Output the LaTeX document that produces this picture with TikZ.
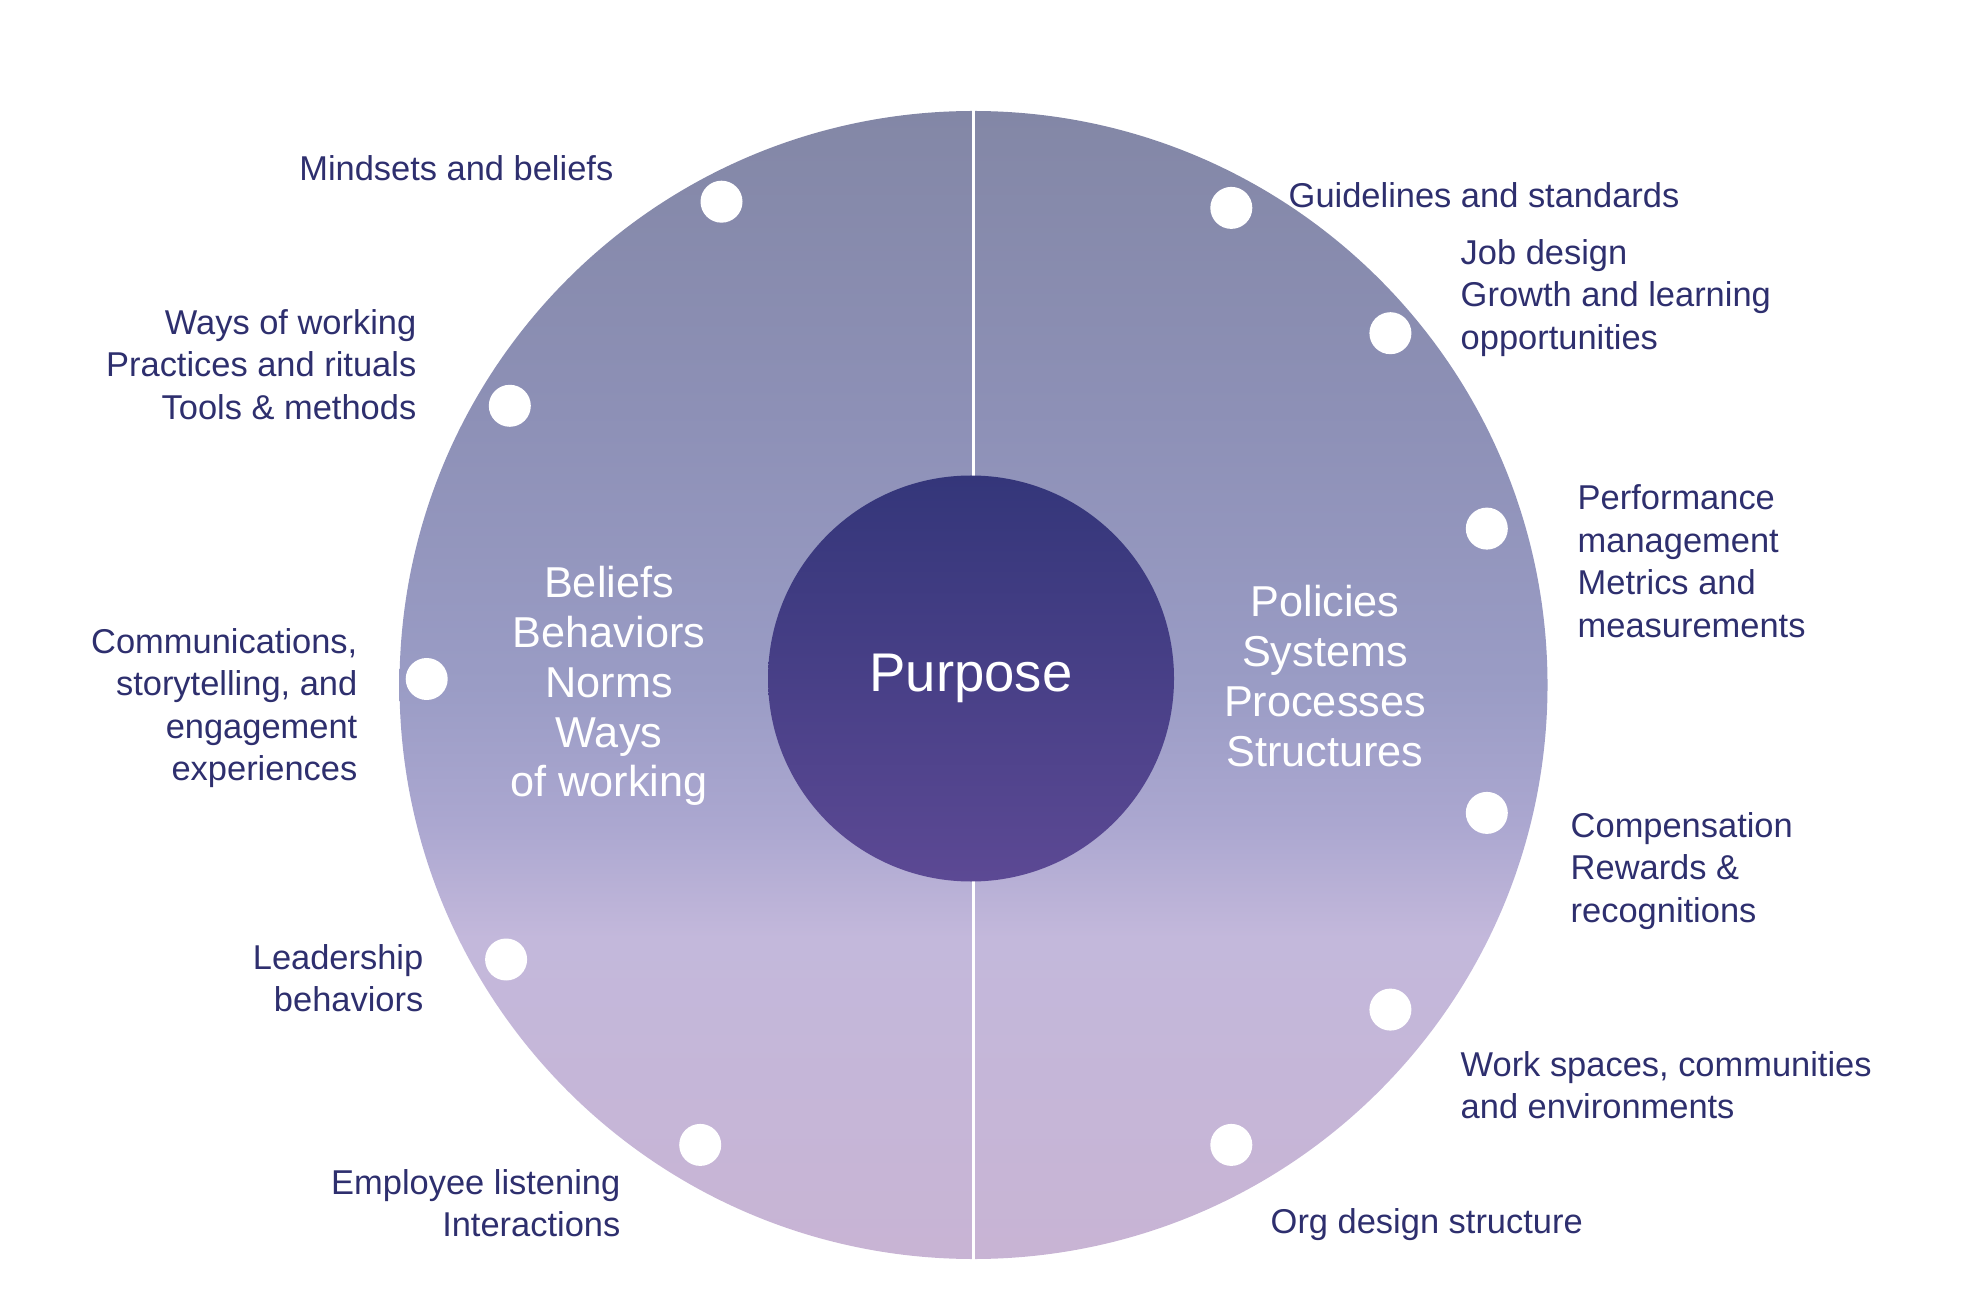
\documentclass[tikz,border=0pt]{standalone}
\usepackage{fontspec}
\setmainfont{Liberation Sans}
\usepackage{tikz}
\usetikzlibrary{positioning}

\definecolor{labelnavy}{HTML}{2E2F6E}
\definecolor{ringtop}{HTML}{8387A6}
\definecolor{ringblue}{HTML}{8D90B6}
\definecolor{ringmid}{HTML}{9A9CC5}
\definecolor{ringmidb}{HTML}{ABA7D0}
\definecolor{ringlilac}{HTML}{C3B8DB}
\definecolor{ringlow}{HTML}{C8B4D4}
\definecolor{hubtop}{HTML}{34367A}
\definecolor{hubbottom}{HTML}{5C4994}

\pgfdeclareverticalshading{ringshade}{100bp}{color(0bp)=(ringlow); color(25bp)=(ringlow);
  color(39bp)=(ringlilac); color(44bp)=(ringmidb); color(50bp)=(ringmid);
  color(62bp)=(ringblue); color(75bp)=(ringtop); color(100bp)=(ringtop)}

\begin{document}
\begin{tikzpicture}[
    lbl/.style={font=\fontsize{9.8}{12.1}\selectfont, text=labelnavy, inner sep=0pt},
    inlbl/.style={font=\fontsize{12.3}{14.2}\selectfont, text=white, align=center, inner sep=0pt},
    dot/.style={circle, fill=white, minimum size=0.42cm, inner sep=0pt}
  ]
    \useasboundingbox (0,0) rectangle (19.64,-13.06);

    % outer ring and the split line
    \node[circle, minimum size=11.48cm, inner sep=0pt, shading=ringshade] (ring) at (9.735,-6.85) {};
    \draw[white, line width=0.9pt] (ring.north) -- (ring.south);

    % centre
    \node[circle, minimum size=4.06cm, inner sep=0pt, top color=hubtop, bottom color=hubbottom,
          text=white, font=\fontsize{15.5}{18}\selectfont] (hub) at (9.71,-6.785) {Purpose};

    \node[inlbl] (culture) at (6.09,-6.86) {Beliefs\\Behaviors\\Norms\\Ways\\of working};
    \node[inlbl] (system)  at (13.25,-6.76) {Policies\\Systems\\Processes\\Structures};

    % dots, left half
    \node[dot] (mindsetsdot)   at (7.215,-2.017) {};
    \node[dot] (waysdot)       at (5.098,-4.058) {};
    \node[dot] (commsdot)      at (4.267,-6.79) {};
    \node[dot] (leadershipdot) at (5.061,-9.595) {};
    \node[dot] (listeningdot)  at (7.002,-11.449) {};
    % dots, right half
    \node[dot] (guidelinesdot)   at (12.313,-2.079) {};
    \node[dot] (jobdot)          at (13.904,-3.332) {};
    \node[dot] (performancedot)  at (14.868,-5.286) {};
    \node[dot] (compensationdot) at (14.868,-8.129) {};
    \node[dot] (workspacesdot)   at (13.904,-10.096) {};
    \node[dot] (orgdot)          at (12.313,-11.449) {};

    % labels, left
    \node[lbl, anchor=east, align=right] (mindsets)   at (6.14,-1.68) {Mindsets and beliefs};
    \node[lbl, anchor=east, align=right] (ways)       at (4.17,-3.645) {Ways of working\\Practices and rituals\\Tools \& methods};
    \node[lbl, anchor=east, align=right] (comms)      at (3.58,-7.08) {Communications,\\storytelling, and\\engagement\\experiences};
    \node[lbl, anchor=east, align=right] (leadership) at (4.24,-9.78) {Leadership\\behaviors};
    \node[lbl, anchor=east, align=right] (listening)  at (6.21,-12.03) {Employee listening\\Interactions};
    % labels, right
    \node[lbl, anchor=west, align=left] (guidelines)   at (12.88,-1.95) {Guidelines and standards};
    \node[lbl, anchor=west, align=left] (job)          at (14.60,-2.98) {Job design\\Growth and learning\\opportunities};
    \node[lbl, anchor=west, align=left] (performance)  at (15.77,-5.61) {Performance\\management\\Metrics and\\measurements};
    \node[lbl, anchor=west, align=left] (compensation) at (15.70,-8.71) {Compensation\\Rewards \&\\recognitions};
    \node[lbl, anchor=west, align=left] (workspaces)   at (14.60,-10.85) {Work spaces, communities\\and environments};
    \node[lbl, anchor=west, align=left] (org)          at (12.70,-12.25) {Org design structure};
\end{tikzpicture}
\end{document}
